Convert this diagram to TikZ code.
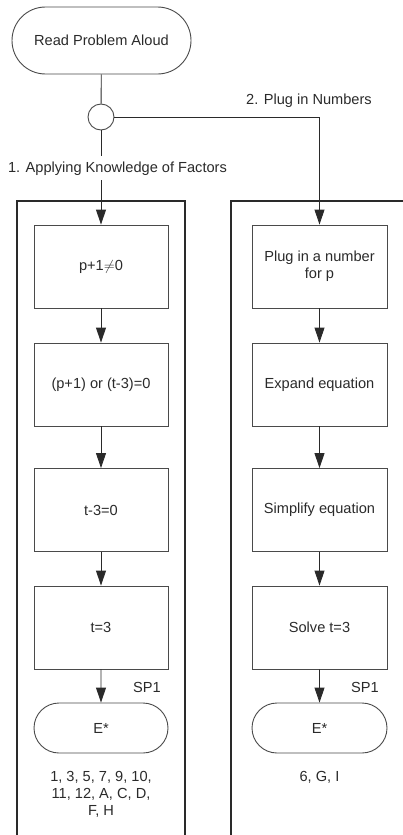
\documentclass[tikz,border=0pt]{standalone}
\usepackage{fontspec}
\setmainfont{Liberation Sans}
\usetikzlibrary{shapes.misc,arrows.meta}
\definecolor{ink}{HTML}{2A2A2A}
\definecolor{boxline}{HTML}{4A4A4A}
\tikzset{
  every node/.style={font=\fontsize{14.6}{17}\selectfont, text=ink},
  stepbox/.style={draw=boxline, line width=0.9pt, minimum height=83pt, inner sep=2pt, align=center},
  leftbox/.style={stepbox, minimum width=134pt},
  rightbox/.style={stepbox, minimum width=135pt},
  term/.style={draw=boxline, line width=0.9pt, rounded rectangle, minimum width=134pt, minimum height=50pt, inner sep=0pt},
  flow/.style={draw=ink, line width=0.9pt, -{Triangle[length=15pt,width=10pt]}},
  plain/.style={draw=ink, line width=0.9pt},
  lane/.style={draw=ink, line width=2pt},
  lbl/.style={inner sep=0pt, anchor=base}
}
\begin{document}
\begin{tikzpicture}[x=1pt,y=-1pt]
\useasboundingbox (0,0) rectangle (403,835);
% lanes
\begin{scope}
\clip (0,0) rectangle (403,835);
\draw[lane] (17,850) -- (17,201) -- (185,201) -- (185,850);
\draw[lane] (231,850) -- (231,201) -- (420,201);
\end{scope}
% top
\node[term, minimum width=179pt, minimum height=67pt] (start) at (101.5,40.5) {Read Problem Aloud};
\node[draw=boxline, line width=0.9pt, circle, minimum size=26pt, inner sep=0pt] (hub) at (101,117) {};
\draw[plain] (start) -- (hub);
% left column
\node[leftbox] (l1) at (101,266.5) {p+1$\neq$0};
\node[leftbox] (l2) at (101,384.5) {(p+1) or (t-3)=0};
\node[leftbox] (l3) at (101,510) {t-3=0};
\node[leftbox] (l4) at (101,627.5) {t=3};
\node[term] (le) at (101,728) {E*};
% right column
\node[rightbox] (r1) at (319.5,266.5) {Plug in a number\\for p};
\node[rightbox] (r2) at (319.5,384.5) {Expand equation};
\node[rightbox] (r3) at (319.5,510) {Simplify equation};
\node[rightbox] (r4) at (319.5,627.5) {Solve t=3};
\node[term, minimum width=135pt] (re) at (319.5,728) {E*};
% connectors
\draw[flow] (hub.south) -- (l1.north);
\coordinate (corner) at (r1.north |- hub.east);
\draw[flow] (hub.east) -- (corner) -- (r1.north);
\draw[flow] (l1) -- (l2);
\draw[flow] (l2) -- (l3);
\draw[flow] (l3) -- (l4);
\draw[flow] (l4) -- (le);
\draw[flow] (r1) -- (r2);
\draw[flow] (r2) -- (r3);
\draw[flow] (r3) -- (r4);
\draw[flow] (r4) -- (re);
% labels
\node[lbl, fill=white, inner ysep=5pt, inner xsep=1pt] (lab1) at (117.5,172) {1. Applying Knowledge of Factors};
\node[lbl] (lab2) at (309,104) {2. Plug in Numbers};
\node[lbl] (sp1) at (147,692) {SP1};
\node[lbl] (sp2) at (365,692) {SP1};
\node[align=center, inner sep=0pt, anchor=north] (lres) at (101,771) {1, 3, 5, 7, 9, 10,\\11, 12, A, C, D,\\F, H};
\node[inner sep=0pt, anchor=north] (rres) at (319.5,771) {6, G, I};
\end{tikzpicture}
\end{document}
